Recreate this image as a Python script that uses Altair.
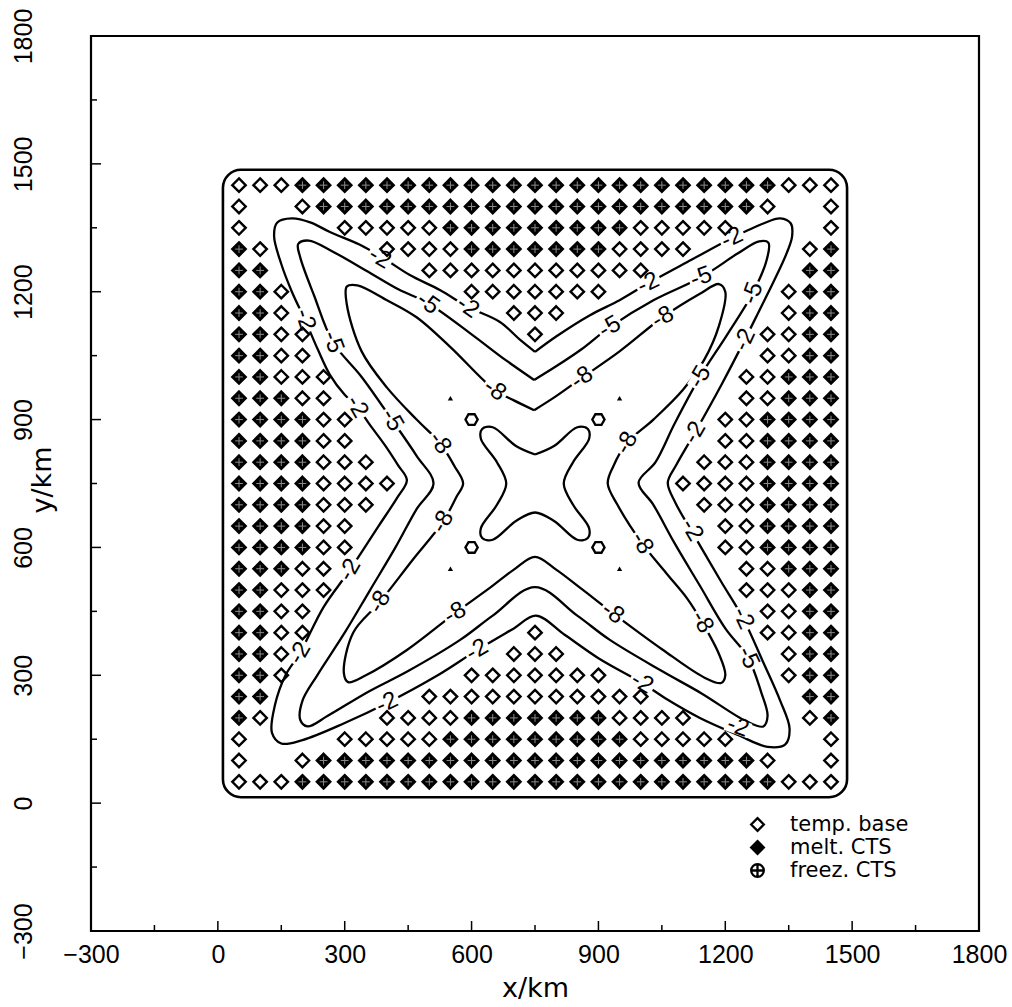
import altair as alt
import pandas as pd

# ---------------------------------------------------------------
# Basal state on the 50 km grid (x = 50..1450, rows y = 1450..50)
#   o = temperate base, x = melting CTS, . = cold base (no symbol)
# ---------------------------------------------------------------
grid_x = [50 + 50 * i for i in range(29)]
grid_y = [1450 - 50 * j for j in range(29)]
grid_rows = [
    "ooo" + "x" * 23 + "ooo",                        # 1450
    "o..o" + "x" * 21 + "o..o",                      # 1400
    "o....ooooo" + "x" * 9 + "ooooo....o",           # 1350
    "xo.....oooo" + "x" * 7 + "oooo.....ox",         # 1300
    "xx.......ooooooooooo.......xx",                 # 1250
    "xxo........ooooooo........oxx",                 # 1200
    "xxo..........ooo..........oxx",                 # 1150
    "xxoo..........o..........ooxx",                 # 1100
    "xxoo" + "." * 21 + "ooxx",                      # 1050
    "xxooo" + "." * 19 + "ooxxx",                    # 1000
    "xxxoo" + "." * 19 + "ooxxx",                    # 950
    "xxxxoo" + "." * 17 + "ooxxxx",                  # 900
    "xxxxoo" + "." * 17 + "ooxxxx",                  # 850
    "xxxxooo" + "." * 15 + "oooxxxx",                # 800
    "xxxxoooo" + "." * 13 + "ooooxxxx",              # 750
    "xxxxooo" + "." * 15 + "oooxxxx",                # 700
    "xxxxoo" + "." * 17 + "ooxxxx",                  # 650
    "xxxxoo" + "." * 17 + "ooxxxx",                  # 600
    "xxxoo" + "." * 19 + "ooxxx",                    # 550
    "xxooo" + "." * 19 + "oooxx",                    # 500
    "xxoo" + "." * 21 + "ooxx",                      # 450
    "xxoo" + "." * 10 + "o" + "." * 10 + "ooxx",     # 400
    "xxo" + "." * 10 + "ooo" + "." * 10 + "oxx",     # 350
    "xxo" + "." * 8 + "ooooooo" + "." * 8 + "oxx",   # 300
    "xx.......ooooooooooo.......xx",                 # 250
    "xo.....oooo" + "x" * 7 + "oooo.....ox",         # 200
    "o....ooooo" + "x" * 9 + "ooooo....o",           # 150
    "o..o" + "x" * 21 + "o..o",                      # 100
    "ooo" + "x" * 23 + "ooo",                        # 50
]
state_names = {"o": "temp. base", "x": "melt. CTS"}
legend_domain = ["temp. base", "melt. CTS", "freez. CTS"]

# ice-sheet margin (rounded outline)
margin_x = [12, 1488]
margin_y = [14, 1486]

# ---------------------------------------------------------------
# Contours of basal temperature (deg C rel. to pressure melting)
# ---------------------------------------------------------------
c2_loop = [(750, 1059), (800, 1095), (880, 1145), (950, 1180), (1018, 1220), (1120, 1275),
           (1216, 1326), (1290, 1360), (1330, 1372), (1355, 1360), (1358, 1330),
           (1345, 1290), (1315, 1225), (1280, 1155), (1246, 1087), (1190, 980), (1128, 869),
           (1085, 795), (1064, 752), (1082, 705), (1130, 622), (1190, 520), (1242, 434),
           (1290, 330), (1330, 240), (1352, 175), (1342, 138), (1300, 132), (1230, 160),
           (1140, 200), (1060, 245), (1003, 282), (900, 340), (820, 395), (752, 440),
           (700, 410), (613, 359), (520, 300), (400, 235), (300, 188), (200, 148),
           (150, 140), (128, 165), (135, 230), (160, 300), (194, 352), (250, 460),
           (312, 547), (380, 650), (425, 718), (447, 758), (426, 793), (395, 840),
           (360, 887), (329, 930), (300, 958), (265, 1005), (237, 1063), (206, 1134),
           (175, 1200), (150, 1265), (133, 1330), (140, 1362), (175, 1372), (220, 1362),
           (265, 1340), (336, 1310), (391, 1279), (454, 1239), (525, 1204), (592, 1164),
           (667, 1129), (715, 1087), (750, 1059)]
c5_loop = [(748, 993), (800, 1025), (860, 1065), (927, 1117), (1030, 1180), (1143, 1234),
           (1230, 1290), (1280, 1318), (1302, 1315), (1298, 1275), (1265, 1197),
           (1205, 1100), (1140, 1000), (1080, 890), (1035, 800), (995, 752), (1030, 700),
           (1080, 610), (1140, 510), (1200, 410), (1254, 341), (1285, 260), (1300, 205),
           (1290, 180), (1250, 192), (1143, 258), (1050, 310), (927, 383), (850, 440),
           (750, 507), (650, 440), (573, 383), (450, 310), (357, 262), (260, 205),
           (212, 180), (195, 195), (200, 240), (235, 300), (300, 400), (360, 500),
           (420, 600), (470, 690), (510, 750), (470, 815), (412, 899), (340, 1000),
           (272, 1082), (228, 1190), (195, 1280), (190, 1312), (215, 1320), (270, 1295),
           (350, 1250), (428, 1205), (497, 1173), (600, 1100), (680, 1040), (748, 993)]
c8_loop = [(748, 922), (800, 955), (861, 998), (950, 1060), (1052, 1140), (1140, 1195),
           (1185, 1218), (1200, 1200), (1185, 1120), (1150, 1040), (1100, 970),
           (1030, 900), (967, 845), (935, 790), (922, 750), (945, 700), (1003, 610),
           (1060, 540), (1110, 480), (1145, 425), (1185, 350), (1200, 300), (1190, 282),
           (1150, 295), (1052, 360), (934, 446), (861, 502), (800, 548), (750, 578),
           (700, 548), (639, 502), (561, 446), (448, 360), (350, 300), (308, 284),
           (298, 305), (320, 400), (383, 472), (460, 570), (532, 660), (565, 720),
           (580, 750), (560, 790), (525, 845), (470, 900), (400, 975), (340, 1060),
           (305, 1170), (305, 1212), (330, 1215), (400, 1180), (470, 1140), (550, 1070),
           (655, 969), (700, 945), (748, 922)]
centre_loop = [(750, 818), (795, 838), (850, 882), (875, 878), (878, 855), (840, 800),
               (818, 750), (840, 700), (878, 645), (875, 622), (850, 618), (795, 662),
               (750, 682), (705, 662), (650, 618), (625, 622), (622, 645), (660, 700),
               (682, 750), (660, 800), (622, 855), (625, 878), (650, 882), (705, 838),
               (750, 818)]
contour_loops = [c2_loop, c5_loop, c8_loop, centre_loop]

# small closed contours around single grid nodes
ring_x = [600, 900, 600, 900]
ring_y = [900, 900, 600, 600]
dot_x = [550, 950, 550, 950]
dot_y = [950, 950, 550, 550]

# contour labels: x, y, text, rotation (deg, clockwise)
label_x = [383, 591, 497, 206, 272, 329, 412, 525, 655,
           1216, 1018, 1143, 927, 1052, 861, 1265, 1246, 1140, 1128, 967,
           532, 312, 383, 561, 613, 194, 400,
           1003, 1121, 934, 1145, 1242, 1254, 1003, 1230]
label_y = [1279, 1164, 1173, 1134, 1082, 930, 899, 845, 969,
           1326, 1220, 1234, 1117, 1140, 998, 1197, 1087, 1000, 869, 845,
           660, 547, 472, 446, 359, 352, 235,
           610, 641, 446, 425, 434, 341, 282, 179]
label_txt = ["-2", "-2", "-5", "-2", "-5", "-2", "-5", "-8", "-8",
             "-2", "-2", "-5", "-5", "-8", "-8", "-5", "-2", "-5", "-2", "-8",
             "-8", "-2", "-8", "-8", "-2", "-2", "-2",
             "-8", "-2", "-8", "-8", "-2", "-5", "-2", "-2"]
label_ang = [30, 35, 35, 72, 70, 60, 60, 55, 35,
             335, 335, 340, 330, 330, 325, 290, 295, 300, 300, 300,
             300, 300, 300, 330, 330, 300, 335,
             60, 60, 35, 60, 65, 65, 30, 20]

# axis ticks
tick_major = [0, 300, 600, 900, 1200, 1500]
tick_minor = [-150, 150, 450, 750, 1050, 1350, 1650]
axis_values = [-300, 0, 300, 600, 900, 1200, 1500, 1800]

# ---------------------------------------------------------------
W, H = 888, 895
NUM_FONT = "Liberation Sans, Arial, sans-serif"
TXT_FONT = "DejaVu Sans, sans-serif"

pts = []
for j, row in enumerate(grid_rows):
    for i, c in enumerate(row):
        if c in state_names:
            pts.append({"x": grid_x[i], "y": grid_y[j], "kind": state_names[c]})
pts = pd.DataFrame(pts)

lines = []
for k, loop in enumerate(contour_loops):
    for n, (x, y) in enumerate(loop):
        lines.append({"x": x, "y": y, "seg": k, "n": n})
lines = pd.DataFrame(lines)

labels = pd.DataFrame({"x": label_x, "y": label_y, "t": label_txt, "a": label_ang})
rings = pd.DataFrame({"x": ring_x, "y": ring_y})
dots = pd.DataFrame({"x": dot_x, "y": dot_y})
margin = pd.DataFrame({"x": [margin_x[0]], "x1": [margin_x[1]],
                       "y": [margin_y[0]], "y1": [margin_y[1]]})
tmaj = pd.DataFrame({"t": tick_major})
tmin = pd.DataFrame({"t": tick_minor})

xs = alt.Scale(domain=[-300, 1800], nice=False, zero=False)
ys = alt.Scale(domain=[-300, 1800], nice=False, zero=False)
x_axis = alt.Axis(values=axis_values, format="d", title="x/km", grid=False, domain=False,
                  ticks=False, tickSize=0, labelFont=NUM_FONT, labelFontSize=25,
                  labelPadding=11, labelColor="black", labelOverlap=False, labelFlush=False,
                  titleFont=TXT_FONT, titleFontSize=27, titleFontWeight="normal",
                  titleColor="black", titlePadding=8)
y_axis = alt.Axis(values=axis_values, format="d", title="y/km", grid=False, domain=False,
                  ticks=False, tickSize=0, labelFont=NUM_FONT, labelFontSize=25,
                  labelPadding=60, labelAngle=270, labelAlign="center",
                  labelBaseline="alphabetic", labelColor="black", labelOverlap=False,
                  labelFlush=False, titleFont=TXT_FONT, titleFontSize=27,
                  titleFontWeight="normal", titleColor="black", titleAngle=270,
                  titleX=-49, titleY=H / 2 - 4, titleAlign="center", titleBaseline="middle")


def X(f):
    return alt.X(f"{f}:Q", scale=xs, axis=x_axis)


def Y(f):
    return alt.Y(f"{f}:Q", scale=ys, axis=y_axis)


diamond = "M0,-1L1,0L0,1L-1,0Z"
ringed_cross = "M-1,0A1,1,0,1,1,1,0A1,1,0,1,1,-1,0ZM-1,0L1,0M0,-1L0,1"
plus = "M-1,0L1,0M0,-1L0,1"
hexagon = "M-1,0L-0.5,-0.87L0.5,-0.87L1,0L0.5,0.87L-0.5,0.87Z"
label_box = "M-1,-0.6L1,-0.6L1,0.6L-1,0.6Z"

legend = alt.Legend(title=None, orient="none", legendX=656, legendY=778, padding=0,
                    labelFont=TXT_FONT, labelFontSize=21, labelColor="black",
                    labelOffset=22, rowPadding=0, symbolSize=160, symbolStrokeWidth=2.3,
                    symbolStrokeColor="black")

outline = alt.Chart(margin).mark_rect(fill="transparent", stroke="black", strokeWidth=2.6,
                                      cornerRadius=18).encode(
    x=X("x"), x2=alt.X2("x1"), y=Y("y"), y2=alt.Y2("y1"))

contours = alt.Chart(lines).mark_line(color="black", strokeWidth=2.3, strokeJoin="round",
                                      interpolate="catmull-rom").encode(
    x=X("x"), y=Y("y"), detail="seg:N", order="n:Q")

label_bg = alt.Chart(labels).mark_point(shape=label_box, filled=True, fill="white",
                                        opacity=1, size=640).encode(
    x=X("x"), y=Y("y"), angle=alt.Angle("a:Q", scale=None))

label_txt_layer = alt.Chart(labels).mark_text(font=NUM_FONT, fontSize=24, color="black",
                                              align="center", baseline="middle").encode(
    x=X("x"), y=Y("y"), text="t:N", angle=alt.Angle("a:Q", scale=None))

ring_layer = alt.Chart(rings).mark_point(shape=hexagon, filled=False, stroke="black",
                                         strokeWidth=2.3, size=150, opacity=1).encode(
    x=X("x"), y=Y("y"))
dot_layer = alt.Chart(dots).mark_point(shape="triangle-up", filled=True, color="black",
                                       size=28, opacity=1).encode(x=X("x"), y=Y("y"))

kind_scale_shape = alt.Scale(domain=legend_domain, range=[diamond, diamond, ringed_cross])
kind_scale_fill = alt.Scale(domain=legend_domain, range=["transparent", "black", "transparent"])
kind_scale_stroke = alt.Scale(domain=legend_domain, range=["black", "black", "black"])

markers = alt.Chart(pts).mark_point(strokeWidth=2.4, size=180, opacity=1).encode(
    x=X("x"), y=Y("y"),
    shape=alt.Shape("kind:N", scale=kind_scale_shape, legend=legend),
    fill=alt.Fill("kind:N", scale=kind_scale_fill, legend=legend),
    stroke=alt.Stroke("kind:N", scale=kind_scale_stroke, legend=legend))

crosses = alt.Chart(pts[pts["kind"] == "melt. CTS"]).mark_point(
    shape=plus, filled=False, stroke="#8c8c8c", strokeWidth=1, size=60, opacity=1).encode(
    x=X("x"), y=Y("y"))

xt_major = alt.Chart(tmaj).mark_rule(color="black", strokeWidth=1.5).encode(
    x=X("t"), y=alt.value(H), y2=alt.value(H - 10))
xt_minor = alt.Chart(tmin).mark_rule(color="black", strokeWidth=1.5).encode(
    x=X("t"), y=alt.value(H), y2=alt.value(H - 6))
yt_major = alt.Chart(tmaj).mark_rule(color="black", strokeWidth=1.5).encode(
    y=Y("t"), x=alt.value(0), x2=alt.value(10))
yt_minor = alt.Chart(tmin).mark_rule(color="black", strokeWidth=1.5).encode(
    y=Y("t"), x=alt.value(0), x2=alt.value(6))

chart = alt.layer(
    outline, contours, label_bg, label_txt_layer, ring_layer, dot_layer, markers, crosses,
    xt_major, xt_minor, yt_major, yt_minor
).properties(
    width=W, height=H,
    autosize=alt.AutoSizeParams(type="none"),
    padding={"left": 91, "top": 36, "right": 33, "bottom": 76},
    background="white",
).configure_view(stroke="black", strokeWidth=2.2)

chart.save("out.html", embed_options={"renderer": "svg", "actions": False})
